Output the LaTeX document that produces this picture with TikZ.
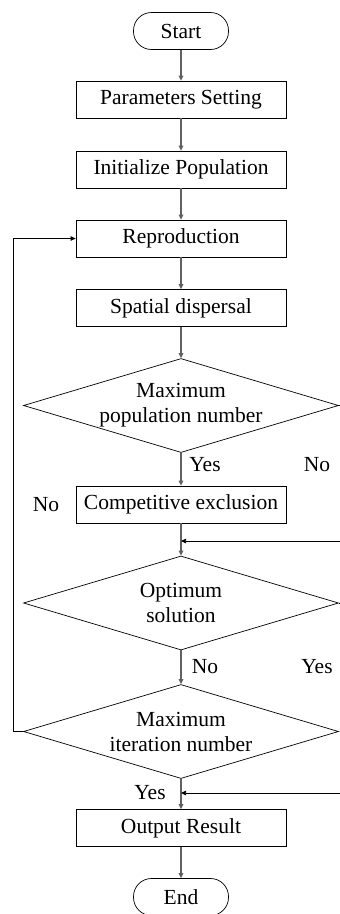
\documentclass[tikz,border=0pt]{standalone}
\usepackage{fontspec}
\setmainfont{Liberation Serif}
\usetikzlibrary{shapes.geometric,arrows.meta}

\tikzset{
  every node/.style={font=\fontsize{21.5}{25}\selectfont},
  terminal/.style={draw,line width=0.7pt,rectangle,rounded corners=18pt,minimum width=95pt,minimum height=37pt},
  process/.style={draw,line width=0.7pt,rectangle,minimum width=210pt,minimum height=37pt},
  decision/.style={draw,line width=0.7pt,diamond,inner xsep=-60pt,inner ysep=-15pt,minimum width=315pt,minimum height=94pt,align=center},
  flow/.style={draw=black!62,line width=1.3pt,-{Triangle[length=5pt,width=4.5pt]}},
  loop/.style={draw=black,line width=0.7pt},
  looparrow/.style={loop,-{Triangle[length=5pt,width=4.5pt]}}
}

\begin{document}
\begin{tikzpicture}[x=1pt,y=-1pt]
\useasboundingbox (0,0) rectangle (340,914);
% Terminals
\node[terminal] (start) at (181,31) {Start};
\node[terminal] (end) at (181,897) {End};
% Boxes
\node[process] (params) at (181,99.5) {Parameters Setting};
\node[process] (init) at (181,169.5) {Initialize Population};
\node[process] (repro) at (181,238.5) {Reproduction};
\node[process] (spatial) at (181,308) {Spatial dispersal};
\node[process] (compet) at (181,504.5) {Competitive exclusion};
\node[process] (output) at (181,828) {Output Result};
% Diamonds
\node[decision] (maxpop) at (181,405.5) {Maximum\\population number};
\node[decision] (optimum) at (181,603) {Optimum\\solution};
\node[decision] (maxiter) at (181,731.5) {Maximum\\iteration number};
% Edge points (right side is cut off)
\coordinate (edge1) at (340,541);
\coordinate (edge2) at (340,793);
\coordinate (leftx) at (13,731.5);
% Arrows
\draw[flow] (start) -- (params);
\draw[flow] (params) -- (init);
\draw[flow] (init) -- (repro);
\draw[flow] (repro) -- (spatial);
\draw[flow] (spatial) -- (maxpop);
\draw[flow] (maxpop) -- (compet);
\draw[flow] (compet) -- (optimum);
\draw[flow] (optimum) -- (maxiter);
\draw[flow] (maxiter) -- (output);
\draw[flow] (output) -- (end);
% Loops
\draw[loop] (maxpop.east) -- (maxpop.east -| edge1);
\draw[loop] (optimum.east) -- (optimum.east -| edge2);
\draw[looparrow] (edge1) -- (compet.south |- edge1);
\draw[looparrow] (edge2) -- (output.north |- edge2);
\draw[looparrow] (maxiter.west) -- (leftx) |- (repro.west);
% Labels
\node (yes1) at (205,465) {Yes};
\node (no1) at (317,465) {No};
\node (no2) at (46,505) {No};
\node (no3) at (205,667) {No};
\node (yes2) at (317,667) {Yes};
\node (yes3) at (150,793) {Yes};
\end{tikzpicture}
\end{document}
